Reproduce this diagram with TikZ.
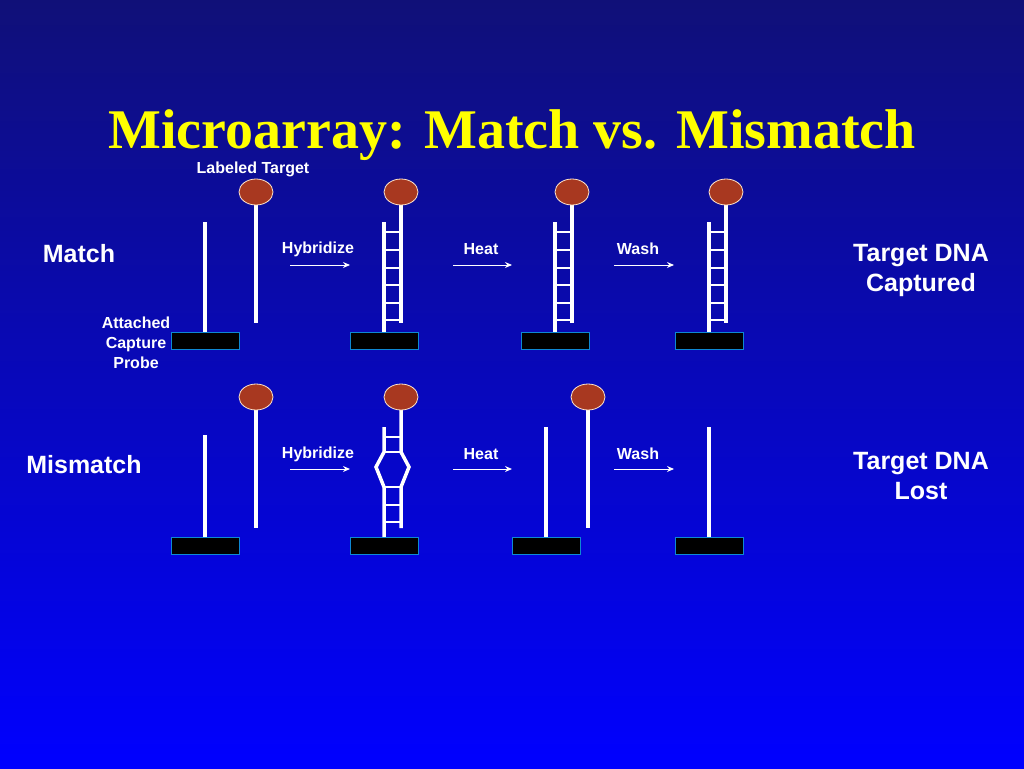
\documentclass[tikz,border=0pt]{standalone}
\usepackage{fontspec}
\usetikzlibrary{shapes.geometric,arrows.meta}
\setmainfont{Liberation Sans}
\newfontfamily\titlefont{Liberation Serif}
\begin{document}
\begin{tikzpicture}[x=1pt,y=-1pt,
  strand/.style={white,line width=3.5pt},
  rung/.style={white,line width=1.2pt},
  basebox/.style={draw=cyan!70!blue,fill=black,line width=1pt,minimum width=68pt,minimum height=17pt,inner sep=0pt},
  blob/.style={draw=white!80!orange,fill={rgb,255:red,168;green,56;blue,32},line width=0.8pt,ellipse,minimum width=34pt,minimum height=26pt,inner sep=0pt},
  arr/.style={white,line width=1pt,-{Stealth[length=7pt,width=6pt]}},
  small/.style={white,font=\bfseries\fontsize{16}{20}\selectfont,align=center},
  big/.style={white,font=\bfseries\fontsize{25}{30}\selectfont,align=center}]
\shade[top color={rgb,255:red,16;green,16;blue,120},bottom color={rgb,255:red,0;green,0;blue,255}] (0,0) rectangle (1024,768);
\useasboundingbox (0,0) rectangle (1024,768);
\node[text={rgb,255:red,255;green,255;blue,0},font=\titlefont\bfseries\fontsize{56}{62}\selectfont] (title) at (512,135) {Microarray: Match vs. Mismatch};
\node[small] (lt) at (253,169) {Labeled Target};
\node[small,align=center] (acp) at (136,343) {Attached\\Capture\\Probe};
\node[big] (m1) at (79,254) {Match};
\node[big] (m2) at (84,465) {Mismatch};
\node[big] (r1) at (921,270) {Target DNA\\Captured};
\node[big] (r2) at (921,476) {Target DNA\\Lost};
% arrows
\foreach \y/\ly [count=\r] in {265/249,469/454}{
  \coordinate (h1\r) at (290,\y); \coordinate (h2\r) at (350,\y);
  \coordinate (e1\r) at (453,\y); \coordinate (e2\r) at (512,\y);
  \coordinate (w1\r) at (614,\y); \coordinate (w2\r) at (674,\y);
  \draw[arr] (h1\r) -- (h2\r); \draw[arr] (e1\r) -- (e2\r); \draw[arr] (w1\r) -- (w2\r);
  \node[small] (hl\r) at (318,\ly) {Hybridize};
  \node[small] (el\r) at (481,\ly) {Heat};
  \node[small] (wl\r) at (638,\ly) {Wash};
}
% Match row
\draw[strand] (205,222) -- (205,332); \draw[strand] (256,205) -- (256,323);
\node[basebox] (b11) at (205,340.5) {}; \node[blob] (c11) at (256,192) {};
\foreach \px/\cx/\n in {384/401/2,555/572/3,709/726/4}{
  \foreach \yy in {232,250,268,285,303,320} \draw[rung] (\px,\yy) -- (\cx,\yy);
  \draw[strand] (\px,222) -- (\px,332); \draw[strand] (\cx,205) -- (\cx,323);
  \node[basebox] (b1\n) at (\px,340.5) {}; \node[blob] (c1\n) at (\cx,192) {};
}
% Mismatch row
\draw[strand] (205,435) -- (205,537); \draw[strand] (256,410) -- (256,528);
\node[basebox] (b21) at (205,545.5) {}; \node[blob] (c21) at (256,397) {};
\foreach \yy in {437,452,487,505,522} \draw[rung] (384,\yy) -- (401,\yy);
\draw[strand] (384,427) -- (384,452) -- (376,467) -- (384,487) -- (384,537);
\draw[strand] (401,410) -- (401,452) -- (409,467) -- (401,487) -- (401,528);
\node[basebox] (b22) at (384,545.5) {}; \node[blob] (c22) at (401,397) {};
\draw[strand] (546,427) -- (546,537); \draw[strand] (588,410) -- (588,528);
\node[basebox] (b23) at (546,545.5) {}; \node[blob] (c23) at (588,397) {};
\draw[strand] (709,427) -- (709,537);
\node[basebox] (b24) at (709,545.5) {};
\end{tikzpicture}
\end{document}
